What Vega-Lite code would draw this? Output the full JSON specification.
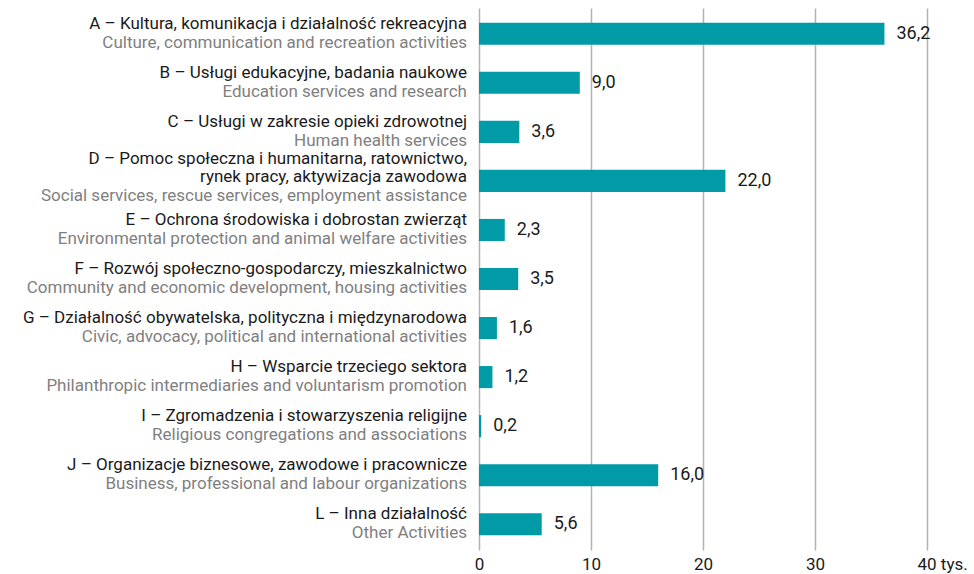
{
  "$schema": "https://vega.github.io/schema/vega-lite/v6.json",
  "width": 448,
  "height": 542,
  "autosize": {"type": "none"},
  "padding": {"left": 479, "top": 8, "right": 47, "bottom": 24},
  "background": "white",
  "config": {
    "view": {"stroke": null},
    "font": "Roboto",
    "locale": {"number": {"decimal": ",", "thousands": " ", "grouping": [3], "currency": ["", " zł"]}}
  },
  "data": {
    "values": [
      {"cat": "A", "value": 36.2, "pl": "A – Kultura, komunikacja i działalność rekreacyjna", "en": "Culture, communication and recreation activities"},
      {"cat": "B", "value": 9.0, "pl": "B – Usługi edukacyjne, badania naukowe", "en": "Education services and research"},
      {"cat": "C", "value": 3.6, "pl": "C – Usługi w zakresie opieki zdrowotnej", "en": "Human health services"},
      {"cat": "D", "value": 22.0, "pl": "D – Pomoc społeczna i humanitarna, ratownictwo,", "pl2": "rynek pracy, aktywizacja zawodowa", "en": "Social services, rescue services, employment assistance"},
      {"cat": "E", "value": 2.3, "pl": "E – Ochrona środowiska i dobrostan zwierząt", "en": "Environmental protection and animal welfare activities"},
      {"cat": "F", "value": 3.5, "pl": "F – Rozwój społeczno-gospodarczy, mieszkalnictwo", "en": "Community and economic development, housing activities"},
      {"cat": "G", "value": 1.6, "pl": "G – Działalność obywatelska, polityczna i międzynarodowa", "en": "Civic, advocacy, political and international activities"},
      {"cat": "H", "value": 1.2, "pl": "H – Wsparcie trzeciego sektora", "en": "Philanthropic intermediaries and voluntarism promotion"},
      {"cat": "I", "value": 0.2, "pl": "I – Zgromadzenia i stowarzyszenia religijne", "en": "Religious congregations and associations"},
      {"cat": "J", "value": 16.0, "pl": "J – Organizacje biznesowe, zawodowe i pracownicze", "en": "Business, professional and labour organizations"},
      {"cat": "L", "value": 5.6, "pl": "L – Inna działalność", "en": "Other Activities"}
    ]
  },
  "encoding": {
    "y": {"field": "cat", "type": "nominal", "sort": null, "axis": null,
          "scale": {"paddingInner": 0.55, "paddingOuter": 0.3}}
  },
  "layer": [
    {
      "mark": {"type": "bar", "color": "#009ba6"},
      "encoding": {
        "x": {"field": "value", "type": "quantitative",
              "scale": {"domain": [0, 40], "nice": false},
              "axis": {"values": [0, 10, 20, 30, 40], "title": null, "domain": false, "ticks": false,
                       "grid": true, "gridColor": "#b3b3b3", "gridWidth": 1.5,
                       "labelFontSize": 17, "labelColor": "#1a1a1a", "labelPadding": 6,
                       "labelExpr": "datum.value == 40 ? '40 tys.' : datum.label",
                       "labelAlign": {"condition": {"test": "datum.value == 40", "value": "left"}, "value": "center"},
                       "labelOffset": {"condition": {"test": "datum.value == 40", "value": -10}, "value": 0}}}
      }
    },
    {
      "mark": {"type": "text", "align": "left", "baseline": "middle", "dx": 12, "fontSize": 18, "color": "#1a1a1a"},
      "encoding": {
        "x": {"field": "value", "type": "quantitative"},
        "text": {"field": "value", "type": "quantitative", "format": ".1f"}
      }
    },
    {
      "transform": [{"filter": "datum.cat != 'D'"}],
      "mark": {"type": "text", "align": "right", "baseline": "alphabetic", "dx": -12, "dy": -5, "fontSize": 17, "color": "#1a1a1a"},
      "encoding": {"x": {"datum": 0}, "text": {"field": "pl"}}
    },
    {
      "transform": [{"filter": "datum.cat != 'D'"}],
      "mark": {"type": "text", "align": "right", "baseline": "alphabetic", "dx": -12, "dy": 14, "fontSize": 17, "color": "#808080"},
      "encoding": {"x": {"datum": 0}, "text": {"field": "en"}}
    },
    {
      "transform": [{"filter": "datum.cat == 'D'"}],
      "mark": {"type": "text", "align": "right", "baseline": "alphabetic", "dx": -12, "dy": -17, "fontSize": 17, "color": "#1a1a1a"},
      "encoding": {"x": {"datum": 0}, "text": {"field": "pl"}}
    },
    {
      "transform": [{"filter": "datum.cat == 'D'"}],
      "mark": {"type": "text", "align": "right", "baseline": "alphabetic", "dx": -12, "dy": 1.5, "fontSize": 17, "color": "#1a1a1a"},
      "encoding": {"x": {"datum": 0}, "text": {"field": "pl2"}}
    },
    {
      "transform": [{"filter": "datum.cat == 'D'"}],
      "mark": {"type": "text", "align": "right", "baseline": "alphabetic", "dx": -12, "dy": 20, "fontSize": 17, "color": "#808080"},
      "encoding": {"x": {"datum": 0}, "text": {"field": "en"}}
    }
  ]
}
